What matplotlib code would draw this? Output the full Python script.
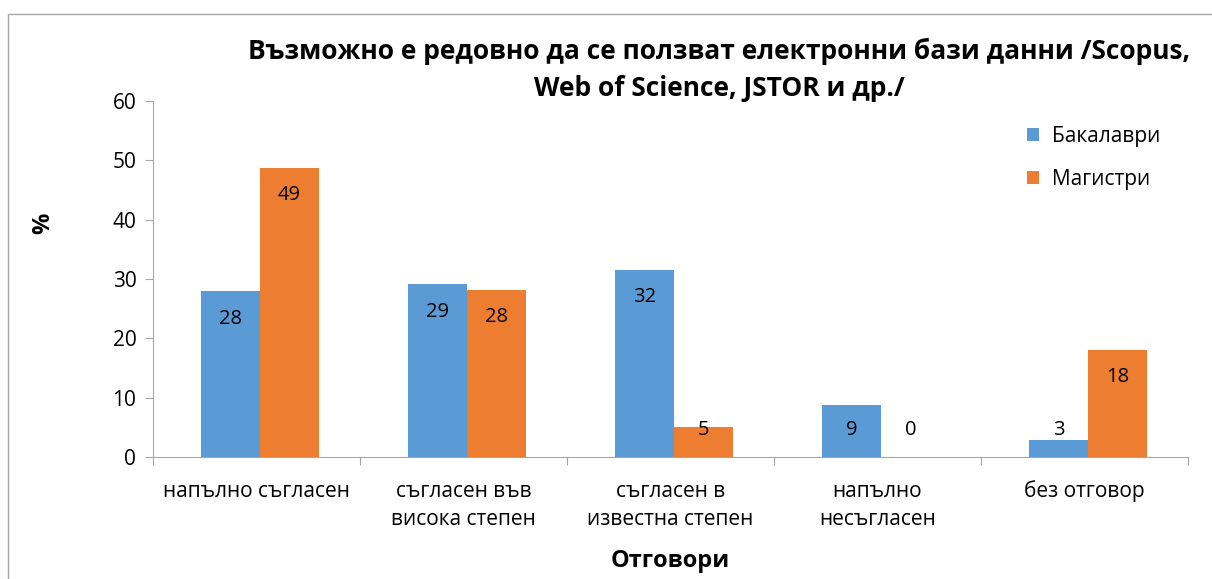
import numpy as np
import matplotlib.pyplot as plt
from matplotlib.patches import Rectangle

plt.rcParams['font.family'] = ['Open Sans', 'DejaVu Sans']

categories = ["напълно съгласен", "съгласен във\nвисока степен", "съгласен в\nизвестна степен",
              "напълно\nнесъгласен", "без отговор"]
bachelors = [27.9, 29.1, 31.6, 8.7, 2.9]
masters = [48.7, 28.2, 5.1, 0.0, 18.0]
bach_labels = ["28", "29", "32", "9", "3"]
mast_labels = ["49", "28", "5", "0", "18"]

blue = "#5B9BD5"
orange = "#ED7D31"

fig = plt.figure(figsize=(12.12, 5.79), dpi=100)
ax = fig.add_axes([153 / 1212, 1 - 457 / 579, 1035 / 1212, 356 / 579])

x = np.arange(len(categories)) + 0.017
w = 0.285
ax.bar(x - w / 2, bachelors, w, color=blue, label="Бакалаври")
ax.bar(x + w / 2, masters, w, color=orange, label="Магистри")

# value labels sit inside the top of the bar, or near the base for short bars
for i in range(len(categories)):
    ax.text(x[i] - w / 2, max(bachelors[i] - 4.6, 4.6), bach_labels[i],
            ha="center", va="center", fontsize=14.5)
    ax.text(x[i] + w / 2, max(masters[i] - 4.6, 4.6), mast_labels[i],
            ha="center", va="center", fontsize=14.5)

ax.set_xlim(-0.5, len(categories) - 0.5)
ax.set_ylim(0, 60)
ax.set_yticks(range(0, 61, 10))
ax.set_xticks(np.arange(-0.5, len(categories), 1.0))
ax.set_xticklabels([])
ax.set_xticks(np.arange(len(categories)), minor=True)
ax.set_xticklabels(categories, minor=True, fontsize=15, linespacing=1.45)
ax.tick_params(axis="x", which="minor", length=0, pad=17)
ax.tick_params(axis="x", which="major", length=6, color="#A6A6A6")
ax.tick_params(axis="y", length=6, color="#A6A6A6", labelsize=15, pad=6)

for s in ["top", "right"]:
    ax.spines[s].set_visible(False)
for s in ["left", "bottom"]:
    ax.spines[s].set_color("#A6A6A6")

ax.set_ylabel("%", fontsize=17, fontweight="bold")
ax.yaxis.set_label_coords(-0.094, 0.657)
ax.set_xlabel("Отговори", fontsize=17, fontweight="bold", labelpad=14)

fig.text(719 / 1212, 1 - 70 / 579,
         "Възможно е редовно да се ползват електронни бази данни /Scopus,\nWeb of Science, JSTOR и др./",
         ha="center", va="center", fontsize=19, fontweight="bold", linespacing=1.45)

ax.legend(loc="upper left", bbox_to_anchor=(1008 / 1212, 1 - 107 / 579),
          bbox_transform=fig.transFigure, frameon=False, fontsize=15,
          handlelength=0.6, handleheight=0.6, labelspacing=1.05, handletextpad=0.6)

fig.add_artist(Rectangle((8 / 1212, -0.1), 1.2, 1 - 14 / 579 + 0.1,
                         transform=fig.transFigure, fill=False,
                         edgecolor="#A6A6A6", linewidth=1))

fig.savefig("out.png", dpi=100)
